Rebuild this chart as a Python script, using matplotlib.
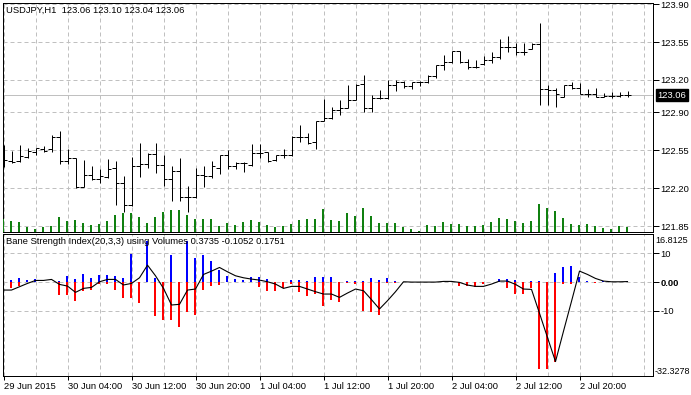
import matplotlib
matplotlib.use("Agg")
import matplotlib.pyplot as plt
import numpy as np

plt.rcParams['font.family'] = ['Liberation Sans', 'DejaVu Sans']

# USDJPY H1 bars, 29 Jun 2015 20:00 .. 3 Jul 02:00
opens = [122.46, 122.455, 122.455, 122.49, 122.535, 122.56, 122.56, 122.675, 122.455, 122.48,
         122.215, 122.32, 122.285, 122.305, 122.385, 122.245, 122.04, 122.405, 122.42, 122.52,
         122.415, 122.28, 122.36, 122.115, 122.115, 122.32, 122.31, 122.39, 122.505, 122.40,
         122.435, 122.415, 122.525, 122.535, 122.46, 122.505, 122.505, 122.675, 122.675, 122.625,
         122.82, 122.845, 122.92, 122.945, 123.015, 123.16, 122.945, 123.03, 123.035, 123.15,
         123.185, 123.145, 123.18, 123.185, 123.235, 123.34, 123.37, 123.465, 123.37, 123.315,
         123.35, 123.385, 123.41, 123.50, 123.50, 123.46, 123.485, 123.535, 123.115, 123.11,
         123.04, 123.15, 123.13, 123.07, 123.07, 123.045, 123.05, 123.055, 123.06]
highs = [122.60, 122.545, 122.60, 122.57, 122.57, 122.59, 122.69, 122.73, 122.56, 122.48,
         122.46, 122.40, 122.375, 122.47, 122.45, 122.315, 122.49, 122.615, 122.525, 122.62,
         122.505, 122.40, 122.475, 122.22, 122.385, 122.40, 122.45, 122.505, 122.55, 122.445,
         122.445, 122.61, 122.61, 122.535, 122.51, 122.56, 122.68, 122.78, 122.705, 122.82,
         123.02, 122.95, 123.015, 123.15, 123.16, 123.245, 123.06, 123.105, 123.20, 123.20,
         123.19, 123.185, 123.19, 123.245, 123.34, 123.43, 123.465, 123.465, 123.39, 123.385,
         123.42, 123.46, 123.575, 123.605, 123.545, 123.545, 123.545, 123.73, 123.155, 123.13,
         123.155, 123.185, 123.17, 123.115, 123.13, 123.075, 123.09, 123.09, 123.10]
lows = [122.395, 122.43, 122.44, 122.475, 122.505, 122.535, 122.535, 122.42, 122.42, 122.20,
        122.215, 122.275, 122.245, 122.29, 122.045, 121.975, 122.035, 122.305, 122.385, 122.34,
        122.22, 122.085, 122.085, 121.98, 122.105, 122.21, 122.29, 122.335, 122.375, 122.375,
        122.35, 122.40, 122.475, 122.445, 122.455, 122.475, 122.50, 122.63, 122.605, 122.56,
        122.82, 122.835, 122.875, 122.945, 123.015, 122.90, 122.90, 123.02, 123.02, 123.10,
        123.13, 123.12, 123.14, 123.17, 123.215, 123.29, 123.36, 123.355, 123.30, 123.31,
        123.34, 123.355, 123.39, 123.46, 123.43, 123.43, 123.485, 122.965, 122.965, 122.95,
        123.04, 123.115, 123.07, 123.04, 123.04, 123.04, 123.03, 123.04, 123.04]
closes = [122.46, 122.445, 122.50, 122.545, 122.57, 122.545, 122.675, 122.455, 122.48, 122.215,
          122.32, 122.285, 122.31, 122.38, 122.245, 122.04, 122.405, 122.42, 122.52, 122.415,
          122.28, 122.36, 122.115, 122.115, 122.32, 122.31, 122.40, 122.505, 122.40, 122.435,
          122.43, 122.525, 122.525, 122.455, 122.505, 122.505, 122.675, 122.675, 122.62, 122.82,
          122.845, 122.92, 122.945, 123.015, 123.15, 122.945, 123.03, 123.035, 123.15, 123.185,
          123.145, 123.18, 123.185, 123.235, 123.34, 123.37, 123.465, 123.37, 123.315, 123.315,
          123.38, 123.41, 123.50, 123.50, 123.46, 123.46, 123.535, 123.115, 123.11, 123.07,
          123.15, 123.13, 123.07, 123.07, 123.045, 123.05, 123.055, 123.065, 123.06]
volumes = [123, 107, 97, 40, 20, 40, 50, 147, 107, 117,
           83, 67, 73, 107, 167, 180, 180, 147, 87, 147,
           197, 210, 217, 167, 127, 127, 127, 57, 80, 67,
           97, 117, 97, 67, 47, 57, 77, 117, 127, 127,
           227, 117, 107, 187, 157, 233, 157, 87, 87, 87,
           47, 27, 5, 67, 57, 97, 77, 77, 50, 50,
           67, 97, 130, 120, 107, 87, 107, 277, 230, 200,
           137, 77, 60, 77, 57, 30, 20, 57, 40]

# Bane Strength Index(20,3,3): positive histogram, negative histogram, signal line
bsi_pos = [0.35, 0.69, 1.49, 0.69, 1.03, 0.1, 0.0, 0.3, 2.07, 1.03,
           2.64, 1.49, 2.41, 2.41, 2.07, 1.5, 9.7, 0.0, 14.1, 1.26,
           0.0, 9.3, 0.0, 14.1, 8.4, 9.5, 7.2, 4.1, 2.18, 1.03,
           0.69, 1.6, 1.6, 1.0, 0.0, 0.0, 0.8, 0.8, 0.46, 1.6,
           1.84, 1.6, 0.0, 0.46, 0.46, 0.23, 1.38, 0.69, 1.38, 0.46,
           0.0, 0.0, 0.0, 0.0, 0.0, 0.0, 0.0, 0.0, 0.0, 0.0,
           0.0, 0.0, 1.0, 1.0, 0.69, 0.0, 0.35, 0.35, 0.0, 3.0,
           5.06, 5.5, 1.84, 0.35, 0.0, 0.35, 0.0, 0.0, 0.3735]
bsi_neg = [-2.76, -2.0, -1.26, 0.0, 0.0, 0.0, 0.0, -4.48, -4.48, -6.44,
           -3.1, -2.76, -0.8, -0.57, -2.76, -5.4, -5.4, -7.36, 0.0, -11.7,
           -13.1, -13.1, -15.5, -10.5, -11.4, -2.76, -1.26, -1.0, 0.0, 0.0,
           0.0, 0.0, -1.84, -3.0, -3.0, -2.2, -0.7, -3.56, -4.7, -4.14,
           -8.16, -6.1, -6.8, -0.46, -0.69, -9.9, -10.2, -11.3, -0.46, -0.46,
           0.0, 0.0, 0.0, 0.0, 0.0, 0.0, 0.0, -1.26, -1.5, -1.84,
           -0.69, 0.0, 0.0, -2.2, -4.1, -4.1, -2.2, -30.0, -30.0, -27.5,
           -0.8, -0.8, 0.0, 0.0, -0.2, 0.0, 0.0, 0.0, -0.1052]
bsi_line = [-2.76, -2.76, -1.61, -0.46, 0.57, 0.57, 0.92, -0.8, -1.38, -3.56,
            -2.18, -1.84, 0.11, 0.92, 0.92, -1.0, -0.46, 1.49, 5.86, 2.18,
            -2.18, -7.93, -7.7, -2.76, -2.41, 2.64, 3.79, 5.06, 3.56, 2.18,
            1.49, 1.03, 0.69, 0.11, -0.69, -2.18, -1.49, -1.49, -2.41, -3.33,
            -4.14, -4.14, -5.29, -3.79, -2.41, -2.99, -6.09, -9.31, -6.44, -3.33,
            0.11, 0.0, 0.0, 0.0, 0.0, 0.23, 0.23, -0.11, -1.03, -1.49,
            -1.49, -0.69, 0.35, 0.35, -0.8, -2.41, -2.53, -10.8, -19.2, -27.5,
            -17.0, -6.67, 3.8, 2.64, 1.26, 0.35, 0.1, 0.1, 0.1751]

price_ticks = [121.85, 122.20, 122.55, 122.90, 123.20, 123.55, 123.90]
bsi_ticks = [10, 0, -10]
bsi_tick_labels = ['10', '0.00', '-10']
bsi_range = (-32.3278, 16.8125)
time_labels = ['29 Jun 2015', '30 Jun 04:00', '30 Jun 12:00', '30 Jun 20:00', '1 Jul 04:00',
               '1 Jul 12:00', '1 Jul 20:00', '2 Jul 04:00', '2 Jul 12:00', '2 Jul 20:00']

W, H = 691, 395
def px_box(x0, y0, x1, y1):
    return [x0 / W, 1 - y1 / H, (x1 - x0) / W, (y1 - y0) / H]

GRID = '#c0c0c0'
FS = 6.75
PX = 0.72       # one pixel in points
HIST_W = 0.25   # two pixels in bar units (8 px per bar), keeps the colour readable
HIST_DX = -0.0625
x = np.arange(len(closes))

fig = plt.figure(figsize=(W / 100, H / 100), dpi=100)
ax = fig.add_axes(px_box(2.5, 2.5, 652.5, 231.5))
axi = fig.add_axes(px_box(2.5, 233.5, 652.5, 375.5), sharex=ax)
axv = ax.twinx()   # volumes; twinx moves ax ticks left so set them afterwards

for a in (ax, axi):
    for s in a.spines.values():
        s.set_linewidth(PX)
        s.set_color('black')
    a.set_axisbelow(True)

ax.set_xlim(-0.125, 81.125)
ax.set_ylim(121.7992, 123.9156)

# vertical grid every 4 bars, time labels every 8
axi.set_xticks(np.arange(0, 80, 8))
axi.set_xticks(np.arange(0, 82, 4), minor=True)
axi.set_xticklabels(time_labels)
for lab in axi.get_xticklabels():
    lab.set_ha('left')
axi.tick_params(axis='x', which='major', length=3, width=PX, pad=2, labelsize=FS)
axi.tick_params(axis='x', which='minor', length=0)
ax.tick_params(axis='x', which='both', length=0, labelbottom=False)

ax.yaxis.tick_right()
ax.set_yticks(price_ticks)
ax.set_yticklabels([f'{v:.2f}' for v in price_ticks])
ax.tick_params(axis='y', length=4, width=PX, pad=1.5, labelsize=FS)

axi.set_ylim(*bsi_range)
axi.yaxis.tick_right()
axi.set_yticks(bsi_ticks)
axi.set_yticklabels(bsi_tick_labels)
axi.tick_params(axis='y', length=4, width=PX, pad=1.5, labelsize=FS)
for lab in axi.get_yticklabels():
    if lab.get_text() == '0.00':
        lab.set_fontweight('bold')

for a in (ax, axi):
    a.grid(True, which='both', axis='x', color=GRID, lw=PX, linestyle=(0, (4, 3)))
    a.grid(True, which='major', axis='y', color=GRID, lw=PX, linestyle=(0, (4, 3)))

# current price line + box
ax.axhline(closes[-1], color=GRID, lw=PX, zorder=1)
ax.annotate(f'{closes[-1]:.2f}', xy=(1, closes[-1]), xycoords=('axes fraction', 'data'),
            xytext=(5, 0), textcoords='offset pixels', va='center', ha='left',
            color='white', fontsize=FS, annotation_clip=False,
            bbox=dict(boxstyle='square,pad=0.2', fc='black', ec='black'))

# volumes along the bottom of the price window
axv.set_ylim(0, max(volumes) * 8.2)
axv.axis('off')
axv.bar(x + HIST_DX, volumes, width=HIST_W, color='#108010', linewidth=0)

# OHLC bars
ax.vlines(x, lows, highs, color='black', lw=PX, zorder=3)
ax.hlines(opens, x - 0.4, x, color='black', lw=PX, zorder=3)
ax.hlines(closes, x, x + 0.4, color='black', lw=PX, zorder=3)

ax.annotate(f'USDJPY,H1  {opens[-1]:.2f} {highs[-1]:.2f} {lows[-1]:.2f} {closes[-1]:.2f}',
            xy=(0, 1), xycoords='axes fraction', xytext=(4, -3), textcoords='offset pixels',
            va='top', ha='left', fontsize=FS, color='black')

# indicator window
axi.bar(x + HIST_DX, bsi_pos, width=HIST_W, color='#0000ff', linewidth=0, zorder=2)
axi.bar(x + HIST_DX, bsi_neg, width=HIST_W, color='#ff0000', linewidth=0, zorder=2)
axi.plot(x, bsi_line, color='black', lw=0.8, zorder=3)
axi.annotate(f'Bane Strength Index(20,3,3) using Volumes {bsi_pos[-1]:.4f} {bsi_neg[-1]:.4f} {bsi_line[-1]:.4f}',
             xy=(0, 1), xycoords='axes fraction', xytext=(4, -4), textcoords='offset pixels',
             va='top', ha='left', fontsize=FS, color='black')
axi.annotate(f'{bsi_range[1]:.4f}', xy=(1, 1), xycoords='axes fraction', xytext=(3, -7),
             textcoords='offset pixels', va='center', ha='left', fontsize=6.5)
axi.annotate(f'{bsi_range[0]:.4f}', xy=(1, 0), xycoords='axes fraction', xytext=(2, 4),
             textcoords='offset pixels', va='center', ha='left', fontsize=6.5)

fig.savefig('out.png', dpi=100)
